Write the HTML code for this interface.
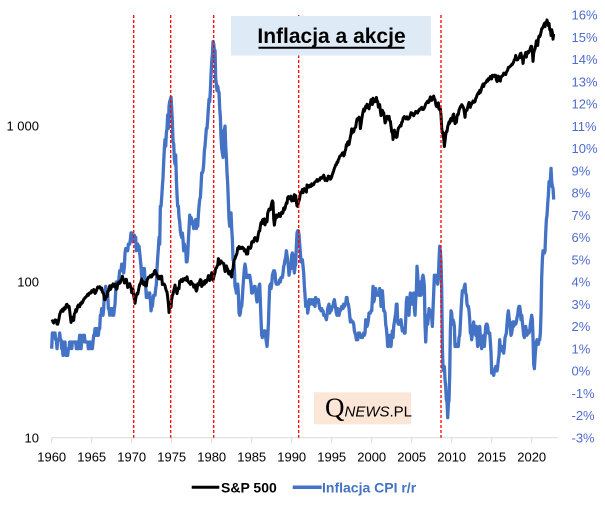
<!DOCTYPE html>
<html><head><meta charset="utf-8">
<style>
html,body{margin:0;padding:0;background:#fff;}
svg{display:block;font-family:"Liberation Sans",Arial,sans-serif;}
</style></head>
<body>
<svg id="c" width="605" height="509" viewBox="0 0 605 509" xmlns="http://www.w3.org/2000/svg">
<rect width="605" height="509" fill="#fff"/>
<g id="axes"></g>
<path id="cpi" fill="none" stroke="#4472C4" stroke-width="3.3" stroke-linejoin="round"/>
<path id="spx" fill="none" stroke="#000" stroke-width="3" stroke-linejoin="round"/>
<g id="red" stroke="#FF0000" stroke-width="1.3" stroke-dasharray="3,2"></g>
<rect x="231" y="16" width="200" height="39.5" fill="#DEEAF6"/>
<text x="331.5" y="43" text-anchor="middle" font-size="21" font-weight="bold" fill="#000">Inflacja a akcje</text>
<line x1="258.5" y1="47.8" x2="404.5" y2="47.8" stroke="#000" stroke-width="2"/>
<rect x="314" y="392.3" width="97" height="32" fill="#FCE6D8"/>
<text x="325" y="416.5" font-size="15" fill="#000"><tspan font-family="Liberation Serif,serif" font-size="27">Q</tspan><tspan font-style="italic">NEWS</tspan><tspan>.PL</tspan></text>
<line x1="191.7" y1="487.3" x2="219.3" y2="487.3" stroke="#000" stroke-width="3"/>
<text x="221" y="492.3" font-size="14" font-weight="bold" fill="#000">S&amp;P 500</text>
<line x1="292.7" y1="487.3" x2="321.7" y2="487.3" stroke="#4472C4" stroke-width="3.5"/>
<text x="322" y="492.3" font-size="14" font-weight="bold" fill="#4472C4">Inflacja CPI r/r</text>
</svg>
<script>
(function(){
var NS="http://www.w3.org/2000/svg";
function X(t){return 51.7+(t-1960)*8;}
function YL(v){return 437.7-156*Math.log10(v/10);}
function YR(p){return 370.9-22.25*p;}
var spx=[
[55.6,56.1,55.3,54.4,55.8,56.9,55.5,56.5,53.5,53.4,55.5,58.1],
[61.8,63.4,65.1,65.3,66.6,64.6,66.8,68.1,66.7,68.6,71.3,71.6],
[68.8,69.9,69.6,65.2,59.6,54.8,58.2,59.1,56.3,56.5,62.3,63.1],
[66.2,64.3,66.6,69.8,70.8,69.4,69.1,72.5,71.7,74.0,73.2,75.0],
[77.0,77.8,79.0,79.5,80.4,81.7,83.2,81.8,84.2,84.9,84.4,84.75],
[87.6,87.4,86.2,89.1,88.4,84.1,85.25,87.2,89.96,92.4,91.6,92.4],
[92.9,91.2,89.2,91.1,86.1,84.7,83.6,77.1,76.6,80.2,80.45,80.3],
[86.6,86.8,90.2,94.0,89.1,90.6,94.75,93.6,96.7,93.3,94.0,96.5],
[92.2,89.4,90.2,97.6,98.7,99.6,97.7,98.9,102.7,103.4,108.4,103.9],
[103.0,98.1,101.5,103.7,103.5,97.7,91.8,95.5,93.1,97.2,93.8,92.1],
[85.0,89.5,89.6,81.5,76.6,72.7,78.05,81.5,84.3,83.25,87.2,92.15],
[95.9,96.75,100.3,103.95,99.6,99.7,95.6,99.0,98.3,94.2,94.0,102.1],
[103.9,106.6,107.2,107.7,109.5,107.1,107.4,111.1,110.55,111.6,116.7,118.05],
[116.0,111.7,111.5,107.0,104.95,104.3,108.2,104.25,108.4,108.3,96.0,97.55],
[96.6,96.2,94.0,90.3,87.3,86.0,79.3,72.15,63.5,73.9,70.0,68.56],
[77.0,81.6,83.4,87.3,91.15,95.2,88.75,86.9,83.9,89.0,91.2,90.2],
[100.9,99.7,102.8,101.6,100.2,104.3,103.4,102.9,105.2,102.9,102.1,107.5],
[102.0,99.8,98.4,98.4,96.1,100.5,98.85,96.8,96.5,92.3,94.8,95.1],
[89.25,87.0,89.2,97.0,97.2,95.5,100.7,103.3,102.5,93.2,94.7,96.1],
[99.9,96.3,101.6,101.8,99.1,102.9,103.8,109.3,109.3,101.8,106.2,107.9],
[114.2,113.7,102.1,106.3,111.2,114.2,121.7,122.4,125.5,127.5,140.5,135.8],
[129.55,131.3,136.0,132.8,132.6,131.2,130.9,122.8,116.2,121.9,126.35,122.55],
[120.4,113.1,112.0,116.4,111.9,109.6,107.1,119.5,120.4,133.7,138.5,140.6],
[145.3,148.1,153.0,164.4,162.4,168.1,162.6,164.4,166.1,163.55,166.4,164.9],
[163.4,157.1,159.2,160.05,150.55,153.2,150.7,166.7,166.1,166.1,163.6,167.2],
[179.6,181.2,180.7,179.8,189.55,191.85,190.9,188.6,182.1,189.8,202.2,211.3],
[211.8,226.9,238.9,235.5,247.35,250.8,236.1,252.9,231.3,244.0,249.2,242.2],
[274.1,284.2,291.7,288.4,290.1,304.0,318.7,329.8,321.8,251.8,230.3,247.1],
[257.1,267.8,258.9,261.3,262.2,273.5,272.0,261.5,271.9,279.0,273.7,277.7],
[297.5,288.9,294.9,309.6,320.5,318.0,346.1,351.5,349.2,340.4,346.0,353.4],
[329.1,331.9,339.9,330.8,361.2,358.0,356.15,322.6,306.05,304.0,322.2,330.2],
[343.9,367.1,375.2,375.3,389.8,371.2,387.8,395.4,387.9,392.5,375.2,417.1],
[408.8,412.7,403.7,414.95,415.35,408.1,424.2,414.0,417.8,418.7,431.35,435.7],
[438.8,443.4,451.7,440.2,450.2,450.5,448.1,463.6,458.9,467.8,461.8,466.45],
[481.6,467.1,445.8,450.9,456.5,444.3,458.3,475.5,462.7,472.35,453.7,459.3],
[470.4,487.4,500.7,514.7,533.4,544.75,562.1,561.9,584.4,581.5,605.4,615.9],
[636.0,640.4,645.5,654.2,669.1,670.6,640.0,652.0,687.3,705.3,757.0,740.7],
[786.2,790.8,757.1,801.3,848.3,885.1,954.3,899.5,947.3,914.6,955.4,970.4],
[980.3,1049.3,1101.75,1111.75,1090.8,1133.8,1120.7,957.3,1017.0,1098.7,1163.6,1229.2],
[1279.6,1238.3,1286.4,1335.2,1301.8,1372.7,1328.7,1320.4,1282.7,1362.9,1388.9,1469.25],
[1394.5,1366.4,1498.6,1452.4,1420.6,1454.6,1430.8,1517.7,1436.5,1429.4,1315.2,1320.3],
[1366.0,1239.9,1160.3,1249.5,1255.8,1224.4,1211.2,1133.6,1040.9,1059.8,1139.45,1148.1],
[1130.2,1106.7,1147.4,1076.9,1067.1,989.8,911.6,916.1,815.3,885.8,936.3,879.8],
[855.7,841.2,848.2,916.9,963.6,974.5,990.3,1008.0,996.0,1050.7,1058.2,1111.9],
[1131.1,1144.9,1126.2,1107.3,1120.7,1140.8,1101.7,1104.2,1114.6,1130.2,1173.8,1211.9],
[1181.3,1203.6,1180.6,1156.85,1191.5,1191.3,1234.2,1220.3,1228.8,1207.0,1249.5,1248.3],
[1280.1,1280.7,1294.9,1310.6,1270.1,1270.2,1276.7,1303.8,1335.85,1377.9,1400.6,1418.3],
[1438.2,1406.8,1420.9,1482.4,1530.6,1503.35,1455.3,1474.0,1526.75,1549.4,1481.1,1468.4],
[1378.55,1330.6,1322.7,1385.6,1400.4,1280.0,1267.4,1282.8,1166.4,968.75,896.2,903.25],
[825.9,735.1,797.9,872.8,919.1,919.3,987.5,1020.6,1057.1,1036.2,1095.6,1115.1],
[1073.9,1104.5,1169.4,1186.7,1089.4,1030.7,1101.6,1049.3,1141.2,1183.3,1180.55,1257.6],
[1286.1,1327.2,1325.8,1363.6,1345.2,1320.6,1292.3,1218.9,1131.4,1253.3,1247.0,1257.6],
[1312.4,1365.7,1408.5,1397.9,1310.3,1362.2,1379.3,1406.6,1440.7,1412.2,1416.2,1426.2],
[1498.1,1514.7,1569.2,1597.6,1630.7,1606.3,1685.7,1633.0,1681.55,1756.5,1805.8,1848.4],
[1782.6,1859.45,1872.3,1883.95,1923.6,1960.2,1930.7,2003.4,1972.3,2018.05,2067.6,2058.9],
[1995.0,2104.5,2067.9,2085.5,2107.4,2063.1,2103.8,1972.2,1920.0,2079.4,2080.4,2043.9],
[1940.2,1932.2,2059.7,2065.3,2097.0,2098.9,2173.6,2171.0,2168.3,2126.15,2199.0,2238.8],
[2278.9,2363.6,2362.7,2384.2,2411.8,2423.4,2470.3,2471.65,2519.4,2575.3,2647.6,2673.6],
[2823.8,2713.8,2640.9,2648.05,2705.3,2718.4,2816.3,2901.5,2914.0,2711.7,2760.2,2506.85],
[2704.1,2784.5,2834.4,2945.8,2752.1,2941.8,2980.4,2926.5,2976.7,3037.6,3141.0,3230.8],
[3225.5,2954.2,2584.6,2912.4,3044.3,3100.3,3271.1,3500.3,3363.0,3270.0,3621.6,3756.1],
[3714.2,3811.2,3972.9,4181.2,4204.1,4297.5,4395.3,4522.7,4307.5,4605.4,4567.0,4766.2],
[4515.6,4373.9,4530.4,4131.9,4132.2,3785.4,4130.3,3955.0,3585.6,3872.0]
];
var cpi=[
[1.0,1.7,1.7,1.7,1.7,1.7,1.4,1.4,1.0,1.4,1.4,1.4],
[1.7,1.4,1.4,1.0,1.0,0.7,1.3,1.0,1.3,0.7,0.7,0.7],
[0.7,1.0,1.0,1.3,1.3,1.3,1.0,1.3,1.3,1.3,1.3,1.3],
[1.3,1.0,1.3,1.0,1.0,1.3,1.6,1.6,1.0,1.3,1.3,1.6],
[1.6,1.6,1.3,1.3,1.3,1.3,1.3,1.0,1.3,1.0,1.3,1.0],
[1.0,1.0,1.3,1.6,1.6,1.9,1.6,1.9,1.6,1.9,1.6,1.9],
[1.9,2.5,2.5,2.8,2.8,2.5,2.8,3.5,3.5,3.8,3.5,3.5],
[3.5,2.8,2.8,2.5,2.8,2.8,2.8,2.5,2.8,2.5,2.8,3.0],
[3.6,4.0,4.0,3.9,3.9,4.2,4.5,4.5,4.5,4.8,4.8,4.7],
[4.4,4.7,5.3,5.5,5.5,5.5,5.4,5.7,5.7,5.7,5.9,6.2],
[6.2,6.1,5.8,6.1,6.1,6.0,6.0,5.4,5.7,5.7,5.6,5.6],
[5.3,5.0,4.7,4.2,4.4,4.6,4.4,4.6,4.1,3.8,3.3,3.3],
[3.3,3.5,3.5,3.5,3.2,2.7,2.9,2.9,3.2,3.4,3.4,3.4],
[3.7,3.9,4.6,5.1,5.5,6.0,5.7,7.4,7.4,7.8,8.3,8.7],
[9.4,10.0,10.4,10.1,10.7,10.9,11.5,10.9,11.9,12.1,12.2,12.3],
[11.8,11.2,10.3,10.2,9.5,9.3,9.7,8.6,7.9,7.4,7.4,6.9],
[6.7,6.3,6.1,6.0,6.2,5.9,5.4,5.7,5.5,5.5,4.9,4.9],
[5.2,5.9,6.4,7.0,6.7,6.9,6.8,6.6,6.6,6.4,6.7,6.7],
[6.8,6.4,6.6,6.5,7.0,7.4,7.7,7.8,8.3,8.9,8.9,9.0],
[9.3,9.9,10.1,10.5,10.9,10.9,11.3,11.8,12.2,12.1,12.6,13.3],
[13.9,14.2,14.8,14.7,14.4,14.4,13.1,12.9,12.6,12.8,12.6,12.5],
[11.8,11.4,10.5,10.0,9.8,9.6,10.8,10.8,11.0,10.1,9.6,8.9],
[8.4,7.6,6.8,6.5,6.7,7.1,6.4,5.9,5.0,5.1,4.6,3.8],
[3.7,3.5,3.6,3.9,3.5,2.6,2.5,2.6,2.9,2.9,3.3,3.8],
[4.2,4.6,4.8,4.6,4.2,4.2,4.2,4.3,4.3,4.3,4.1,3.9],
[3.5,3.5,3.7,3.7,3.8,3.8,3.6,3.3,3.1,3.2,3.5,3.8],
[3.9,3.1,2.3,1.6,1.5,1.8,1.6,1.6,1.8,1.5,1.3,1.1],
[1.5,2.1,3.0,3.8,3.9,3.7,3.9,4.3,4.4,4.5,4.5,4.4],
[4.0,3.9,3.9,3.9,3.9,4.0,4.1,4.0,4.2,4.2,4.2,4.4],
[4.7,4.8,5.0,5.1,5.4,5.2,5.0,4.7,4.3,4.5,4.7,4.6],
[5.2,5.3,5.2,4.7,4.4,4.7,4.8,5.6,6.2,6.3,6.3,6.1],
[5.7,5.3,4.9,4.9,5.0,4.7,4.4,3.8,3.4,2.9,3.0,3.1],
[2.6,2.8,3.2,3.2,3.0,3.1,3.2,3.1,3.0,3.2,3.0,2.9],
[3.3,3.2,3.1,3.2,3.2,3.0,2.8,2.8,2.7,2.8,2.7,2.7],
[2.5,2.5,2.5,2.4,2.3,2.5,2.8,2.9,3.0,2.6,2.7,2.7],
[2.8,2.9,2.9,3.1,3.2,3.0,2.8,2.6,2.5,2.8,2.6,2.5],
[2.7,2.7,2.8,2.9,2.9,2.8,3.0,2.9,3.0,3.0,3.3,3.3],
[3.0,3.0,2.8,2.5,2.2,2.3,2.2,2.2,2.2,2.1,1.8,1.7],
[1.6,1.4,1.4,1.4,1.7,1.7,1.7,1.6,1.5,1.5,1.5,1.6],
[1.7,1.6,1.7,2.3,2.1,2.0,2.1,2.3,2.6,2.6,2.6,2.7],
[2.7,3.2,3.8,3.1,3.2,3.7,3.7,3.4,3.5,3.4,3.4,3.4],
[3.7,3.5,2.9,3.3,3.6,3.2,2.7,2.7,2.6,2.1,1.9,1.6],
[1.1,1.1,1.5,1.6,1.2,1.1,1.5,1.8,1.5,2.0,2.2,2.4],
[2.6,3.0,3.0,2.2,2.1,2.1,2.1,2.2,2.3,2.0,1.8,1.9],
[1.9,1.7,1.7,2.3,3.1,3.3,3.0,2.7,2.5,3.2,3.5,3.3],
[3.0,3.0,3.1,3.5,2.8,2.5,3.2,3.6,4.7,4.3,3.5,3.4],
[4.0,3.6,3.4,3.5,4.2,4.3,4.1,3.8,2.1,1.3,2.0,2.5],
[2.1,2.4,2.8,2.6,2.7,2.7,2.4,2.0,2.8,3.5,4.3,4.1],
[4.3,4.0,4.0,3.9,4.2,5.0,5.6,5.4,4.9,3.7,1.1,0.1],
[0.0,0.2,-0.4,-0.7,-1.3,-1.4,-2.1,-1.5,-1.3,-0.2,1.8,2.7],
[2.6,2.1,2.3,2.2,2.0,1.1,1.2,1.1,1.1,1.2,1.1,1.5],
[1.6,2.1,2.7,3.2,3.6,3.6,3.6,3.8,3.9,3.5,3.4,3.0],
[2.9,2.9,2.7,2.3,1.7,1.7,1.4,1.7,2.0,2.2,1.8,1.7],
[1.6,2.0,1.5,1.1,1.4,1.8,2.0,1.5,1.2,1.0,1.2,1.5],
[1.6,1.1,1.5,2.0,2.1,2.1,2.0,1.7,1.7,1.7,1.3,0.8],
[-0.1,0.0,-0.1,-0.2,0.0,0.1,0.2,0.2,0.0,0.2,0.5,0.7],
[1.4,1.0,0.9,1.1,1.0,1.0,0.8,1.1,1.5,1.6,1.7,2.1],
[2.5,2.7,2.4,2.2,1.9,1.6,1.7,1.9,2.2,2.0,2.2,2.1],
[2.1,2.2,2.4,2.5,2.8,2.9,2.9,2.7,2.3,2.5,2.2,1.9],
[1.6,1.5,1.9,2.0,1.8,1.6,1.8,1.7,1.7,1.8,2.1,2.3],
[2.5,2.3,1.5,0.3,0.1,0.6,1.0,1.3,1.4,1.2,1.2,1.4],
[1.4,1.7,2.6,4.2,5.0,5.4,5.4,5.3,5.4,6.2,6.8,7.0],
[7.5,7.9,8.5,8.3,8.6,9.1,8.5,8.3,8.2,7.7]
];
function build(arr,fy){
 var d="",first=true;
 for(var i=0;i<arr.length;i++){for(var m=0;m<arr[i].length;m++){
  var t=1960+i+m/12;
  d+=(first?"M":"L")+X(t).toFixed(2)+","+fy(arr[i][m]).toFixed(2);first=false;}}
 return d;
}
document.getElementById("spx").setAttribute("d",build(spx,YL));
document.getElementById("cpi").setAttribute("d",build(cpi,YR));
var ax=document.getElementById("axes");
function el(n,a,txt){var e=document.createElementNS(NS,n);for(var k in a)e.setAttribute(k,a[k]);if(txt!==undefined)e.textContent=txt;return e;}
ax.appendChild(el("line",{x1:51.7,y1:437.7,x2:557.7,y2:437.7,stroke:"#D9D9D9","stroke-width":1}));
for(var y=1960;y<=2020;y+=5){
 var x=X(y);
 ax.appendChild(el("line",{x1:x,y1:437.7,x2:x,y2:443,stroke:"#D9D9D9","stroke-width":1}));
 ax.appendChild(el("text",{x:x,y:461.5,"text-anchor":"middle","font-size":13,fill:"#000"},String(y)));
}
[["10",10],["100",100],["1 000",1000]].forEach(function(l){ax.appendChild(el("text",{x:39,y:YL(l[1])+4.6,"text-anchor":"end","font-size":13,fill:"#000"},l[0]));});
for(var p=16;p>=-3;p--){
 ax.appendChild(el("text",{x:571.5,y:YR(p)+4.6,"font-size":13,fill:"#4F6CD0"},p+"%"));
}
var red=document.getElementById("red");
[133.7,170.7,213.7,298.7,441].forEach(function(x){red.appendChild(el("line",{x1:x,y1:15,x2:x,y2:437.7}));});
})();
</script>
</body></html>
